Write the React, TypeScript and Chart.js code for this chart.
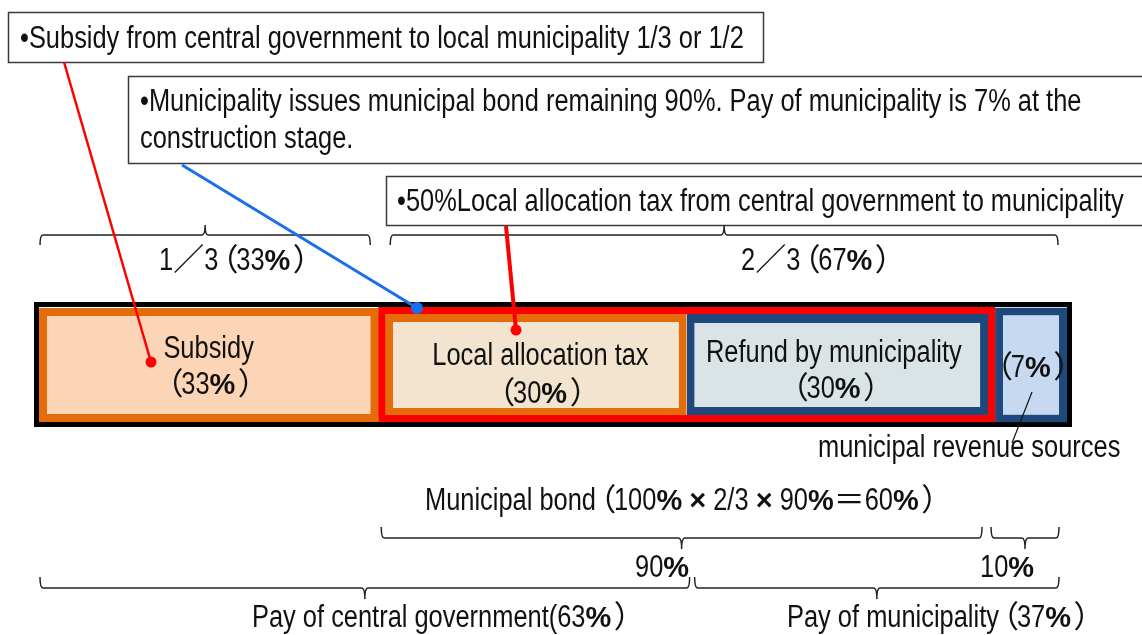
import React, { useEffect, useRef } from 'react';
import { Chart, registerables } from 'chart.js';

Chart.register(...registerables);

// ---------- data ----------
const categories = ['Construction cost'];
const segmentNames = ['Subsidy', 'Local allocation tax', 'Refund by municipality', 'municipal revenue sources'];
const segmentValues = [33, 30, 30, 7];
const segmentFills = ['#FBD5B5', '#F2E4CE', '#DAE4E7', '#C6D9F1'];
const segmentBorders = ['#E46C0A', '#E46C0A', '#1F497D', '#1F497D'];

const note1 = '•Subsidy from central government to local municipality 1/3 or 1/2';
const note2Lines = [
  '•Municipality issues municipal bond remaining 90%. Pay of municipality is 7% at the',
  'construction stage.',
];
const note3 = '•50%Local allocation tax from central government to municipality';
const shareLabels = [['1', '3', '33'], ['2', '3', '67']];
const bondLabel = { total: '100', frac: '2/3', rate: '90', result: '60' };
const splitLabels = ['90', '10'];
const payLabels = ['Pay of central government(63', 'Pay of municipality'];
const payValues = ['63', '37'];
const revenueLabel = 'municipal revenue sources';

// ---------- text helpers ----------
// n = narrow text, b = bold percent, c = full-width glyph, o = open paren, e = close paren
type Kind = 'n' | 'b' | 'c' | 'o' | 'e';
type Run = [string, Kind];
let narrowOK: boolean | null = null;
const NARROW_SCALE = 0.82;
const FS = 31;

function checkNarrow(ctx: CanvasRenderingContext2D) {
  if (narrowOK !== null) return narrowOK;
  ctx.save();
  ctx.font = "30px 'Liberation Sans Narrow', monospace";
  const a = ctx.measureText('abcdefghijklmnopqrstuvw').width;
  ctx.font = '30px monospace';
  const b = ctx.measureText('abcdefghijklmnopqrstuvw').width;
  ctx.restore();
  narrowOK = Math.abs(a - b) > 1;
  return narrowOK;
}

function setFont(ctx: CanvasRenderingContext2D, kind: Kind, size: number) {
  if (kind === 'b') ctx.font = `bold ${Math.round(size * 0.92)}px 'Liberation Sans', Arial, sans-serif`;
  else if (kind === 'c' || kind === 'o' || kind === 'e') ctx.font = `${size}px 'Noto Sans CJK JP', sans-serif`;
  else if (checkNarrow(ctx)) ctx.font = `${size}px 'Liberation Sans Narrow', sans-serif`;
  else ctx.font = `${size}px 'Liberation Sans', Arial, sans-serif`;
}

function runWidth(ctx: CanvasRenderingContext2D, run: Run, size: number) {
  if (run[1] === 'o') return size * 0.58;
  if (run[1] === 'e') return size * 0.6;
  setFont(ctx, run[1], size);
  const w = ctx.measureText(run[0]).width;
  return run[1] === 'n' && !checkNarrow(ctx) ? w * NARROW_SCALE : w;
}

function drawRun(ctx: CanvasRenderingContext2D, run: Run, x: number, y: number, size: number) {
  setFont(ctx, run[1], size);
  if (run[1] === 'o') {
    ctx.fillText(run[0], x - size * 0.35, y);
  } else if (run[1] === 'e') {
    ctx.fillText(run[0], x + size * 0.08, y);
  } else if (run[1] === 'n' && !checkNarrow(ctx)) {
    ctx.save();
    ctx.translate(x, y);
    ctx.scale(NARROW_SCALE, 1);
    ctx.fillText(run[0], 0, 0);
    ctx.restore();
  } else {
    ctx.fillText(run[0], x, y);
  }
}

function drawRuns(ctx: CanvasRenderingContext2D, runs: Run[], x: number, y: number, size = FS, align: 'left' | 'center' = 'left') {
  ctx.save();
  ctx.fillStyle = '#111';
  ctx.textBaseline = 'alphabetic';
  ctx.textAlign = 'left';
  const widths = runs.map((r) => runWidth(ctx, r, size));
  const total = widths.reduce((s, w) => s + w, 0);
  let cx = align === 'center' ? x - total / 2 : x;
  runs.forEach((r, i) => {
    drawRun(ctx, r, cx, y, size);
    cx += widths[i];
  });
  ctx.restore();
}

function pctRuns(num: string): Run[] {
  return [['（', 'o'], [num, 'n'], ['%', 'b'], ['）', 'e']];
}

function brace(ctx: CanvasRenderingContext2D, x1: number, x2: number, y: number, tipUp: boolean, h: number) {
  const d = tipUp ? -1 : 1;
  const xm = (x1 + x2) / 2;
  const r = 3;
  ctx.save();
  ctx.strokeStyle = '#222';
  ctx.lineWidth = 1.5;
  ctx.beginPath();
  ctx.moveTo(x1, y - d * h);
  ctx.quadraticCurveTo(x1, y, x1 + r, y);
  ctx.lineTo(xm - r, y);
  ctx.quadraticCurveTo(xm, y, xm, y + d * h);
  ctx.moveTo(xm, y + d * h);
  ctx.quadraticCurveTo(xm, y, xm + r, y);
  ctx.lineTo(x2 - r, y);
  ctx.quadraticCurveTo(x2, y, x2, y - d * h);
  ctx.stroke();
  ctx.restore();
}

function connector(ctx: CanvasRenderingContext2D, x1: number, y1: number, x2: number, y2: number, color: string, w: number, dot: number) {
  ctx.save();
  ctx.strokeStyle = color;
  ctx.fillStyle = color;
  ctx.lineWidth = w;
  ctx.beginPath();
  ctx.moveTo(x1, y1);
  ctx.lineTo(x2, y2);
  ctx.stroke();
  if (dot > 0) {
    ctx.beginPath();
    ctx.arc(x2, y2, dot, 0, Math.PI * 2);
    ctx.fill();
  }
  ctx.restore();
}

function noteBox(ctx: CanvasRenderingContext2D, x: number, y: number, w: number, h: number) {
  ctx.save();
  ctx.fillStyle = '#fff';
  ctx.fillRect(x, y, w, h);
  ctx.strokeStyle = '#3a3a3a';
  ctx.lineWidth = 1.5;
  ctx.strokeRect(x + 0.5, y + 0.5, w, h);
  ctx.restore();
}

const cumulative = segmentValues.reduce<number[]>((acc, v) => [...acc, acc[acc.length - 1] + v], [0]);

const overlayPlugin = {
  id: 'overlay',
  beforeDatasetsDraw(chart: any) {
    const ctx: CanvasRenderingContext2D = chart.ctx;
    const xs = chart.scales.x;
    const ca = chart.chartArea;
    const cy = (ca.top + ca.bottom) / 2;
    const x0 = xs.getPixelForValue(cumulative[0]);
    const x4 = xs.getPixelForValue(cumulative[4]);
    ctx.save();
    ctx.strokeStyle = '#000';
    ctx.lineWidth = 5;
    ctx.strokeRect(x0 - 2.5, cy - 60.5, x4 - x0 + 5, 120);
    ctx.restore();
  },
  afterDatasetsDraw(chart: any) {
    const ctx: CanvasRenderingContext2D = chart.ctx;
    const xs = chart.scales.x;
    const ca = chart.chartArea;
    const cy = (ca.top + ca.bottom) / 2;
    const px = cumulative.map((v) => xs.getPixelForValue(v));

    // red frame around the municipal bond part
    ctx.save();
    ctx.strokeStyle = '#FF0000';
    ctx.lineWidth = 7;
    ctx.strokeRect(px[1] + 3.5, cy - 54.5, px[3] - px[1] - 7, 108);
    ctx.restore();

    // labels inside bars
    const offsets = [[0, -7, 29], [8, 0, 38], [-7, -3, 33]];
    for (let i = 0; i < 3; i++) {
      const el = chart.getDatasetMeta(i).data[0];
      const c = (el.x + el.base) / 2 + offsets[i][0];
      drawRuns(ctx, [[segmentNames[i], 'n']], c, cy + offsets[i][1], FS, 'center');
      drawRuns(ctx, pctRuns(String(segmentValues[i])), c, cy + offsets[i][2], FS, 'center');
    }
    const el3 = chart.getDatasetMeta(3).data[0];
    drawRuns(ctx, pctRuns(String(segmentValues[3])), (el3.x + el3.base) / 2, cy + 12, FS, 'center');
    drawRuns(ctx, [[revenueLabel, 'n']], 818, 457, FS);

    // note boxes
    noteBox(ctx, 8, 12, 755, 50);
    drawRuns(ctx, [[note1, 'n']], 20, 48, FS);
    noteBox(ctx, 128, 76, 1100, 87);
    drawRuns(ctx, [[note2Lines[0], 'n']], 140, 111, FS);
    drawRuns(ctx, [[note2Lines[1], 'n']], 140, 148, FS);
    noteBox(ctx, 386, 176, 800, 49);
    drawRuns(ctx, [[note3, 'n']], 397, 211, FS);

    // top braces: shares
    brace(ctx, px[0] + 1, px[1] - 8, 235, true, 10);
    brace(ctx, px[1] + 12, px[4] - 9, 235, true, 10);
    drawRuns(ctx, [[shareLabels[0][0], 'n'], ['／', 'c'], [shareLabels[0][1], 'n'], ...pctRuns(shareLabels[0][2])], 159, 270, FS);
    drawRuns(ctx, [[shareLabels[1][0], 'n'], ['／', 'c'], [shareLabels[1][1], 'n'], ...pctRuns(shareLabels[1][2])], 741, 270, FS);

    // municipal bond
    drawRuns(ctx, [
      ['Municipal bond', 'n'], ['（', 'o'], [bondLabel.total, 'n'], ['%', 'b'], [' ', 'n'], ['×', 'b'],
      [' ' + bondLabel.frac + ' ', 'n'], ['×', 'b'], [' ' + bondLabel.rate, 'n'], ['%', 'b'], ['＝', 'c'],
      [bondLabel.result, 'n'], ['%', 'b'], ['）', 'e'],
    ], 425, 510, FS);
    brace(ctx, px[1] + 3, px[3] - 13, 538, false, 11);
    brace(ctx, px[3] - 4, px[4] - 8, 538, false, 11);
    drawRuns(ctx, [[splitLabels[0], 'n'], ['%', 'b']], 635, 577, FS);
    drawRuns(ctx, [[splitLabels[1], 'n'], ['%', 'b']], 980, 577, FS);

    // pay braces
    brace(ctx, px[0] + 1, px[2] + 3, 588, false, 11);
    brace(ctx, px[2] + 8, px[4] - 8, 588, false, 11);
    drawRuns(ctx, [[payLabels[0], 'n'], ['%', 'b'], ['）', 'e']], 252, 627, FS);
    drawRuns(ctx, [[payLabels[1], 'n'], ...pctRuns(payValues[1])], 787, 627, FS);

    // connectors
    connector(ctx, 1032, 392, 1012, 443, '#111', 1.2, 0);
    connector(ctx, 64, 62, 151, 362, '#FF0000', 2.5, 5.5);
    connector(ctx, 182, 165, 417, 308, '#1A6FEF', 3, 6);
    connector(ctx, 506, 226, 516, 330, '#FF0000', 4, 5.5);
  },
};

export default function App() {
  const canvasRef = useRef<HTMLCanvasElement | null>(null);

  useEffect(() => {
    if (!canvasRef.current) return;
    const thick = [114, 102, 102, 115];
    const borders = [
      8,
      { left: 15, right: 8, top: 8, bottom: 8 },
      { left: 8, right: 15, top: 9, bottom: 9 },
      8,
    ];
    const chart = new Chart(canvasRef.current, {
      type: 'bar',
      data: {
        labels: categories,
        datasets: segmentValues.map((v, i) => ({
          label: segmentNames[i],
          data: [v],
          backgroundColor: segmentFills[i],
          borderColor: segmentBorders[i],
          borderWidth: borders[i] as any,
          borderSkipped: false,
          barThickness: thick[i],
          inflateAmount: 0,
        })),
      },
      options: {
        indexAxis: 'y',
        responsive: false,
        animation: false,
        devicePixelRatio: 1,
        layout: { padding: { left: 39, right: 75, top: 300, bottom: 205 } },
        plugins: { legend: { display: false }, tooltip: { enabled: false }, title: { display: false } },
        scales: {
          x: { display: false, min: 0, max: 100, stacked: true },
          y: { display: false, stacked: true },
        },
      },
      plugins: [overlayPlugin],
    });
    return () => chart.destroy();
  }, []);

  return (
    <div style={{ position: 'absolute', left: 0, top: 0, width: 1142, height: 635, background: '#fff' }}>
      <canvas ref={canvasRef} width={1142} height={635} style={{ display: 'block' }} />
    </div>
  );
}
